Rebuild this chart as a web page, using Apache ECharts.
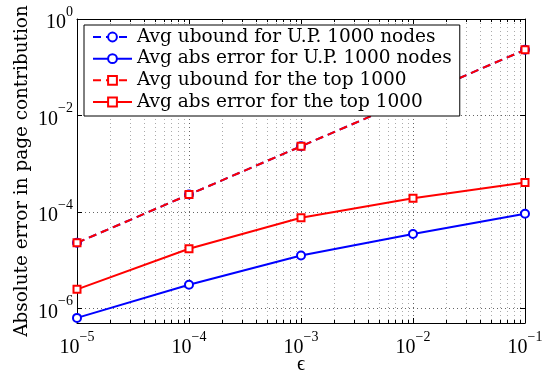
<!DOCTYPE html>
<html>
<head>
<meta charset="utf-8">
<script src="https://cdn.jsdelivr.net/npm/echarts@6/dist/echarts.min.js"></script>
<style>
html,body{margin:0;padding:0;background:#fff;}
#chart{width:542px;height:374px;}
</style>
</head>
<body>
<div id="chart"></div>
<script>
// ---- data ----
const epsilon = [1e-5, 1e-4, 1e-3, 1e-2, 1e-1];
const uboundUP = [2.3e-5, 2.3e-4, 2.3e-3, 2.3e-2, 0.23];
const absErrUP = [6.4e-7, 3.1e-6, 1.26e-5, 3.5e-5, 9.2e-5];
const uboundTop = [2.3e-5, 2.3e-4, 2.3e-3, 2.3e-2, 0.23];
const absErrTop = [2.5e-6, 1.73e-5, 7.6e-5, 1.92e-4, 4.1e-4];
const seriesNames = [
  'Avg ubound for U.P. 1000 nodes',
  'Avg abs error for U.P. 1000 nodes',
  'Avg ubound for the top 1000',
  'Avg abs error for the top 1000'
];
const xTicks = [1e-5, 1e-4, 1e-3, 1e-2, 1e-1];
const yTicks = [1e-6, 1e-4, 1e-2, 1];
const xName = 'ϵ';
const yName = 'Absolute error in page contribution';

// ---- helpers ----
const FONT = "'Liberation Serif', 'DejaVu Serif', serif";
const WFONT = "'DejaVu Serif', serif";
const minorX = [];
for (let e = -5; e < -1; e++) for (let m = 2; m <= 9; m++) minorX.push(m * Math.pow(10, e));
function pairs(xs, ys) { return xs.map((x, i) => [x, ys[i]]); }
function powLabel(v) {
  const e = Math.round(Math.log10(v));
  return '{b|10}{s|' + (e < 0 ? '\u2212' + (-e) : e) + '}';
}
const rich = {
  b: {fontSize: 20, fontFamily: FONT, color: '#000', verticalAlign: 'bottom'},
  s: {fontSize: 14, fontFamily: FONT, color: '#000', verticalAlign: 'top', padding: [0, 0, 14, 0]}
};
const blk = {color: '#000', width: 1};
const xMin = 1e-5, xMax = 1e-1, yMin = Math.pow(10, -6.3), yMax = 1;

const chart = echarts.init(document.getElementById('chart'), null, {renderer: 'canvas'});
const option = {
  animation: false,
  backgroundColor: '#fff',
  grid: {left: 77, right: 17, top: 19, bottom: 51, containLabel: false, outerBoundsMode: 'none'},
  legend: {
    orient: 'vertical', left: 84, top: 25, z: 20,
    padding: [2, 8, 4, 8],
    itemWidth: 39, itemHeight: 11, itemGap: 1.67,
    backgroundColor: '#fff', borderColor: '#000', borderWidth: 1,
    selectedMode: false,
    textStyle: {fontFamily: WFONT, fontSize: 18.5, color: '#000', lineHeight: 20},
    data: seriesNames
  },
  xAxis: [
    {type: 'log', logBase: 10, min: xMin, max: xMax, position: 'bottom',
     axisLine: {show: true, lineStyle: blk},
     axisTick: {show: true, inside: true, length: 5, customValues: xTicks, lineStyle: blk},
     axisLabel: {show: true, customValues: xTicks, formatter: powLabel, rich: rich, margin: 7},
     splitLine: {show: true, lineStyle: {color: '#666', width: 1, type: [1, 3]}},
     name: xName, nameLocation: 'middle', nameGap: 32, nameMoveOverlap: false,
     nameTextStyle: {fontFamily: FONT, fontSize: 20, color: '#000'}},
    {type: 'log', logBase: 10, min: xMin, max: xMax, position: 'bottom',
     axisLine: {show: false},
     axisTick: {show: true, inside: true, length: 3, customValues: minorX, lineStyle: blk},
     axisLabel: {show: false},
     splitLine: {show: true, lineStyle: {color: '#aaa', width: 1, type: [1, 3]}}},
    {type: 'log', logBase: 10, min: xMin, max: xMax, position: 'top',
     axisLine: {show: true, lineStyle: blk},
     axisTick: {show: true, inside: true, length: 5, customValues: xTicks, lineStyle: blk},
     axisLabel: {show: false}, splitLine: {show: false}},
    {type: 'log', logBase: 10, min: xMin, max: xMax, position: 'top',
     axisLine: {show: false},
     axisTick: {show: true, inside: true, length: 3, customValues: minorX, lineStyle: blk},
     axisLabel: {show: false}, splitLine: {show: false}}
  ],
  yAxis: [
    {type: 'log', logBase: 10, min: yMin, max: yMax, position: 'left',
     axisLine: {show: true, lineStyle: blk},
     axisTick: {show: true, inside: true, length: 5, customValues: yTicks, lineStyle: blk},
     axisLabel: {show: true, customValues: yTicks, formatter: powLabel, rich: rich, margin: 4},
     splitLine: {show: true, lineStyle: {color: '#666', width: 1, type: [1, 3]}},
     name: yName, nameLocation: 'middle', nameGap: 46, nameRotate: 90, nameMoveOverlap: false,
     nameTextStyle: {fontFamily: WFONT, fontSize: 18.4, color: '#000'}},
    {type: 'log', logBase: 10, min: yMin, max: yMax, position: 'right',
     axisLine: {show: true, lineStyle: blk},
     axisTick: {show: true, inside: true, length: 5, customValues: yTicks, lineStyle: blk},
     axisLabel: {show: false}, splitLine: {show: false}}
  ],
  series: [
    {name: seriesNames[0], type: 'line', data: pairs(epsilon, uboundUP),
     symbol: 'emptyCircle', symbolSize: 8,
     lineStyle: {color: '#0000ff', width: 2, type: [8, 5]},
     itemStyle: {color: '#0000ff', borderWidth: 1.8}, z: 2},
    {name: seriesNames[1], type: 'line', data: pairs(epsilon, absErrUP),
     symbol: 'emptyCircle', symbolSize: 8,
     lineStyle: {color: '#0000ff', width: 2},
     itemStyle: {color: '#0000ff', borderWidth: 1.8}, z: 3},
    {name: seriesNames[2], type: 'line', data: pairs(epsilon, uboundTop),
     symbol: 'emptyRect', symbolSize: 7,
     lineStyle: {color: '#ff0000', width: 2, type: [8, 5]},
     itemStyle: {color: '#ff0000', borderWidth: 1.8}, z: 4},
    {name: seriesNames[3], type: 'line', data: pairs(epsilon, absErrTop),
     symbol: 'emptyRect', symbolSize: 7,
     lineStyle: {color: '#ff0000', width: 2},
     itemStyle: {color: '#ff0000', borderWidth: 1.8}, z: 5}
  ]
};
chart.setOption(option);
</script>
</body>
</html>
